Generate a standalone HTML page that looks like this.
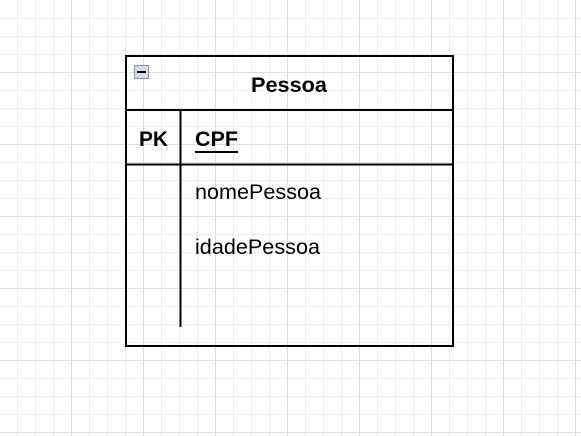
<!DOCTYPE html>
<html><head><meta charset="utf-8"><style>
html,body{margin:0;padding:0;background:#fff;}
svg{display:block;font-family:"Liberation Sans",Arial,sans-serif;}
</style></head><body>
<svg width="581" height="436" viewBox="0 0 581 436" xmlns="http://www.w3.org/2000/svg">
<rect width="581" height="436" fill="#fff"/>
<g stroke="#efefef" stroke-width="1">
<path d="M17.5 0V436M35.5 0V436M53.5 0V436M89.5 0V436M107.5 0V436M125.5 0V436M161.5 0V436M179.5 0V436M197.5 0V436M233.5 0V436M251.5 0V436M269.5 0V436M305.5 0V436M323.5 0V436M341.5 0V436M377.5 0V436M395.5 0V436M413.5 0V436M449.5 0V436M467.5 0V436M485.5 0V436M521.5 0V436M539.5 0V436M557.5 0V436"/>
<path d="M0 18.5H581M0 36.5H581M0 54.5H581M0 90.5H581M0 108.5H581M0 126.5H581M0 162.5H581M0 180.5H581M0 198.5H581M0 234.5H581M0 252.5H581M0 270.5H581M0 306.5H581M0 324.5H581M0 342.5H581M0 378.5H581M0 396.5H581M0 414.5H581"/>
</g>
<g stroke="#dcdcdc" stroke-width="1">
<path d="M71.5 0V436M143.5 0V436M215.5 0V436M287.5 0V436M359.5 0V436M431.5 0V436M503.5 0V436M575.5 0V436"/>
<path d="M0 72.5H581M0 144.5H581M0 216.5H581M0 288.5H581M0 360.5H581M0 432.5H581"/>
</g>
<g stroke="#000" stroke-width="2" fill="none">
<rect x="126" y="56" width="327" height="290"/>
<line x1="126" y1="110" x2="453" y2="110"/>
<line x1="126" y1="164.5" x2="453" y2="164.5"/>
<line x1="180.5" y1="110" x2="180.5" y2="327"/>
</g>
<rect x="134.5" y="65.5" width="14" height="13" fill="#d8dce4" stroke="#8a8f99"/>
<line x1="137" y1="72" x2="146" y2="72" stroke="#000" stroke-width="2"/>
<text x="251" y="92" font-size="21" font-weight="bold" textLength="76" lengthAdjust="spacingAndGlyphs">Pessoa</text>
<text x="139" y="146" font-size="21" font-weight="bold" textLength="29" lengthAdjust="spacingAndGlyphs">PK</text>
<text x="195" y="146" font-size="21" font-weight="bold" textLength="43" lengthAdjust="spacingAndGlyphs">CPF</text>
<line x1="195" y1="152" x2="238" y2="152" stroke="#000" stroke-width="2"/>
<text x="195" y="199" font-size="21" textLength="126" lengthAdjust="spacingAndGlyphs">nomePessoa</text>
<text x="195" y="254" font-size="21" textLength="125" lengthAdjust="spacingAndGlyphs">idadePessoa</text>
</svg>
</body></html>
